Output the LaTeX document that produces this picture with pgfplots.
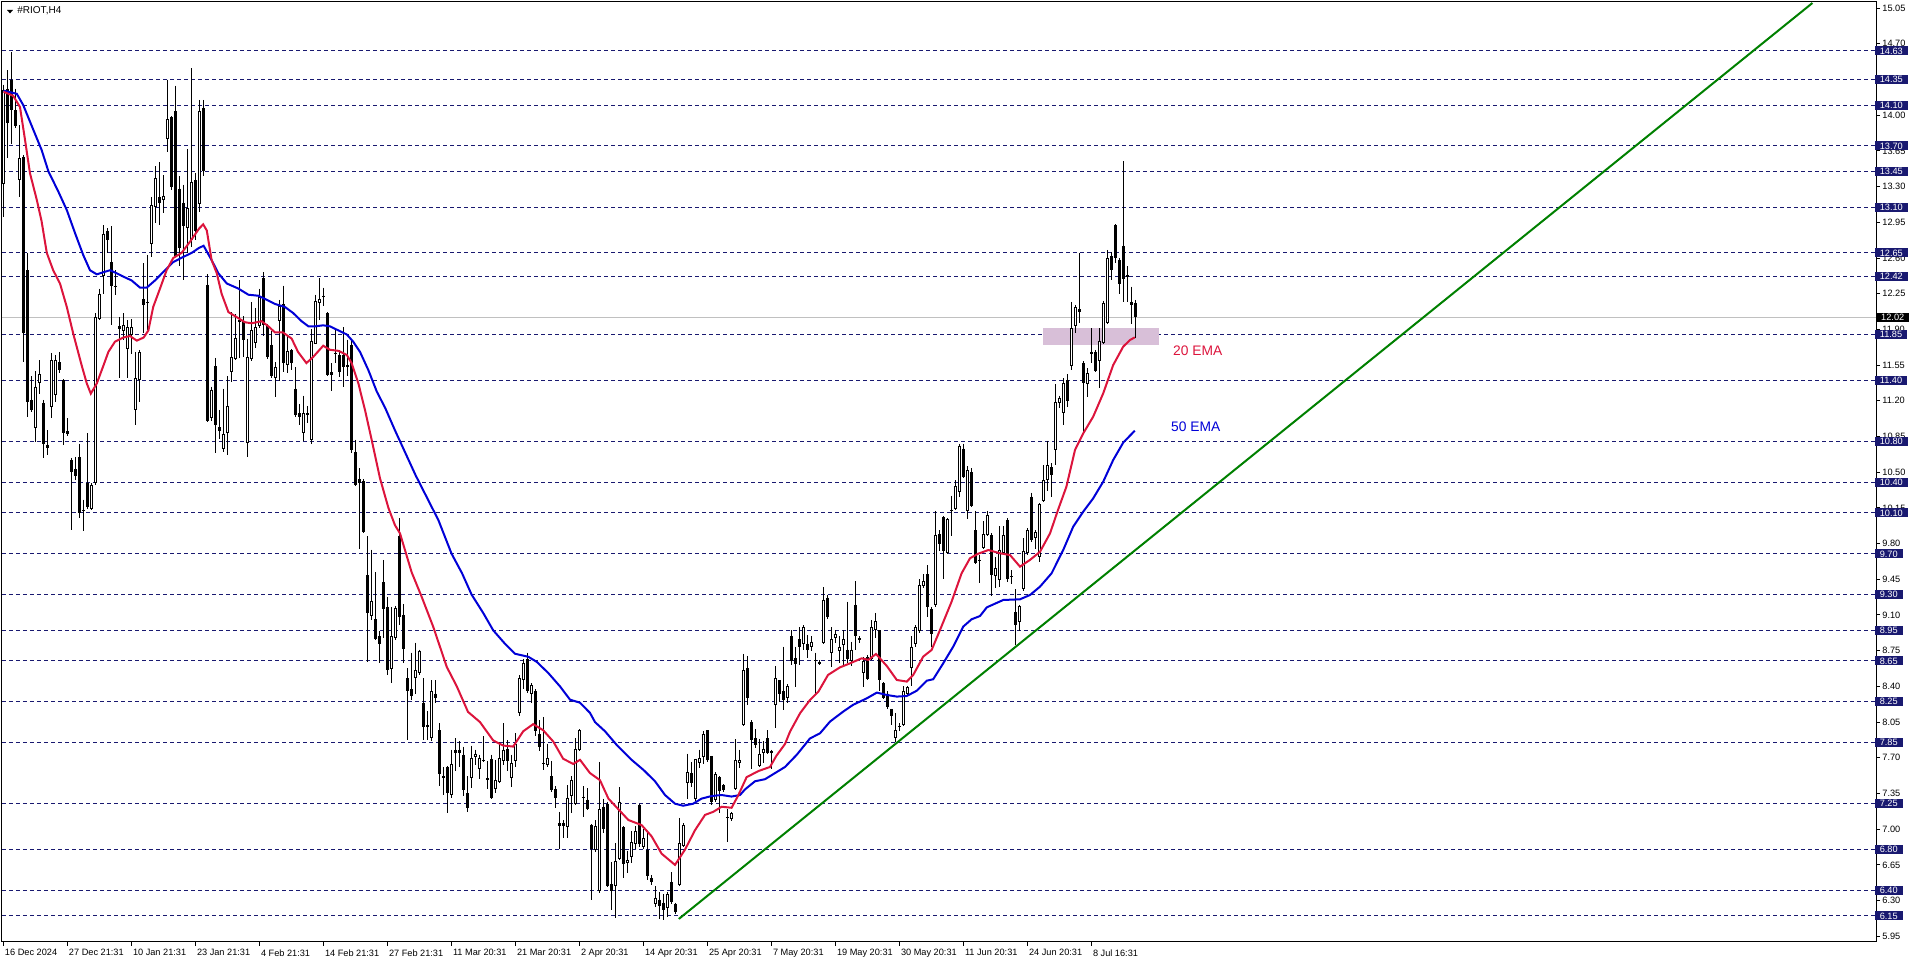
\documentclass[border=0pt]{standalone}
\usepackage{fontspec}
\setmainfont{Liberation Sans}
\usepackage{pgfplots}
\usepackage{pgfplotstable}
\pgfplotsset{compat=1.18}
\definecolor{navyc}{RGB}{25,25,112}
\definecolor{emared}{RGB}{220,20,60}
\definecolor{emablue}{RGB}{0,0,215}
\definecolor{thistlec}{RGB}{216,191,216}
\definecolor{trend}{RGB}{0,128,0}
\definecolor{curline}{RGB}{192,192,192}
\pgfplotstableread{
i o h l c
0 13.33 14.30 13.00 14.25
1 14.26 14.44 13.58 13.92
2 14.35 14.62 13.72 14.05
3 14.05 14.26 13.87 13.89
4 13.36 13.90 13.20 13.58
5 13.59 13.61 11.58 11.86
6 12.48 12.65 11.04 11.19
7 11.21 11.44 11.09 11.11
8 10.93 11.49 10.80 11.34
9 11.37 11.60 11.27 11.46
10 11.18 11.21 10.64 10.78
11 10.77 10.91 10.67 10.74
12 11.14 11.67 11.03 11.60
13 11.26 11.65 11.19 11.60
14 11.58 11.68 11.47 11.50
15 11.40 11.41 10.77 10.88
16 10.90 11.03 10.85 10.87
17 10.62 10.64 9.93 10.50
18 10.53 10.65 10.42 10.46
19 10.65 10.78 10.05 10.10
20 10.12 10.23 9.92 10.13
21 10.39 10.88 10.14 10.16
22 10.14 10.39 10.13 10.37
23 10.39 12.06 10.37 12.02
24 12.00 12.30 11.99 12.25
25 12.42 12.92 12.25 12.84
26 12.86 12.89 12.65 12.78
27 12.56 12.91 11.94 12.33
28 12.33 12.48 12.24 12.32
29 11.93 12.02 11.42 11.90
30 11.88 12.06 11.80 11.94
31 11.71 11.99 11.42 11.92
32 11.85 12.00 11.66 11.92
33 11.11 11.68 10.96 11.42
34 11.40 11.70 11.19 11.68
35 12.20 12.55 11.86 12.14
36 12.16 12.63 11.89 12.17
37 12.74 13.20 12.61 13.12
38 13.10 13.50 12.94 13.38
39 13.20 13.54 12.92 13.14
40 13.17 13.41 13.04 13.21
41 13.77 14.35 13.64 13.96
42 13.98 13.99 13.27 13.30
43 14.04 14.29 12.62 12.62
44 13.28 13.40 12.52 12.70
45 13.14 13.32 12.38 12.91
46 12.89 13.67 12.65 13.09
47 12.78 14.46 12.71 13.35
48 13.36 13.43 12.78 12.86
49 13.13 14.15 13.05 14.04
50 14.07 14.15 13.40 13.45
51 12.34 12.44 10.99 11.00
52 11.03 11.34 11.00 11.31
53 11.54 11.62 10.69 10.96
54 10.94 11.11 10.83 10.90
55 10.73 11.32 10.70 10.87
56 10.88 11.44 10.67 11.15
57 11.48 12.07 11.38 11.63
58 11.61 12.05 11.60 11.82
59 11.97 12.38 11.62 11.99
60 11.98 12.03 11.63 11.80
61 10.79 11.81 10.65 11.63
62 11.61 12.17 11.59 11.89
63 11.77 12.11 11.72 11.92
64 11.93 12.30 11.91 12.22
65 12.40 12.46 11.84 11.94
66 11.93 11.95 11.61 11.63
67 11.75 11.88 11.42 11.44
68 11.42 11.58 11.24 11.53
69 11.98 12.19 11.39 12.13
70 12.15 12.33 11.48 11.57
71 11.55 11.84 11.47 11.69
72 11.70 11.71 11.50 11.57
73 11.32 11.53 11.04 11.06
74 11.08 11.17 10.96 11.04
75 10.88 11.25 10.81 11.08
76 11.06 11.15 10.98 11.08
77 10.82 11.90 10.78 11.79
78 11.76 12.24 11.76 12.18
79 12.16 12.40 11.99 12.20
80 12.22 12.31 12.13 12.23
81 12.06 12.07 11.44 11.45
82 11.48 11.57 11.30 11.45
83 11.66 11.91 11.57 11.67
84 11.65 11.70 11.43 11.48
85 11.65 11.92 11.34 11.53
86 11.55 11.80 11.44 11.53
87 11.75 11.80 10.69 10.72
88 10.70 10.82 10.36 10.37
89 10.43 10.54 9.75 10.39
90 10.41 10.43 9.90 9.91
91 9.49 9.87 8.64 9.12
92 9.09 9.74 9.05 9.24
93 9.06 9.52 8.85 8.86
94 8.89 8.94 8.63 8.82
95 9.42 9.64 8.87 9.16
96 9.18 9.28 8.51 8.56
97 8.57 9.18 8.43 8.89
98 8.87 9.19 8.85 9.17
99 9.87 10.05 9.00 9.08
100 9.10 9.21 8.63 8.77
101 8.48 8.58 7.87 8.35
102 8.37 8.73 8.27 8.31
103 8.48 8.83 8.33 8.56
104 8.53 8.76 8.51 8.75
105 8.24 8.48 7.87 8.00
106 8.02 8.16 7.87 8.00
107 7.89 8.46 7.86 8.35
108 8.33 8.46 8.24 8.29
109 7.97 8.04 7.42 7.54
110 7.52 7.61 7.34 7.50
111 7.61 7.62 7.16 7.35
112 7.34 7.78 7.31 7.64
113 7.78 7.89 7.57 7.75
114 7.78 7.86 7.61 7.75
115 7.73 7.81 7.33 7.38
116 7.35 7.52 7.17 7.21
117 7.50 7.82 7.40 7.70
118 7.71 7.78 7.63 7.74
119 7.59 7.73 7.49 7.70
120 7.68 7.91 7.66 7.68
121 7.48 7.67 7.39 7.50
122 7.69 7.73 7.30 7.31
123 7.39 7.68 7.35 7.48
124 7.46 7.85 7.45 7.70
125 7.67 8.04 7.63 7.78
126 7.79 7.87 7.57 7.67
127 7.50 7.73 7.41 7.65
128 7.67 7.94 7.61 7.84
129 8.14 8.51 8.11 8.48
130 8.46 8.67 8.37 8.63
131 8.67 8.73 8.34 8.35
132 8.33 8.43 8.24 8.41
133 8.35 8.37 7.91 7.96
134 7.93 8.07 7.77 7.81
135 7.65 8.10 7.58 7.65
136 7.63 7.84 7.61 7.70
137 7.52 7.67 7.36 7.38
138 7.39 7.42 7.21 7.31
139 7.06 7.17 6.81 7.03
140 7.06 7.09 6.91 7.03
141 7.02 7.43 6.91 7.31
142 7.33 7.52 7.16 7.48
143 7.25 7.89 7.24 7.79
144 7.78 7.98 7.77 7.97
145 7.32 7.42 7.12 7.32
146 7.29 7.40 7.19 7.20
147 7.04 7.05 6.31 6.81
148 6.80 7.09 6.78 7.03
149 6.39 7.66 6.37 7.20
150 7.22 7.30 6.96 7.00
151 7.25 7.27 6.43 6.44
152 6.46 6.68 6.21 6.39
153 6.44 6.86 6.13 6.69
154 6.71 7.41 6.70 7.27
155 7.02 7.03 6.52 6.66
156 6.67 6.79 6.57 6.70
157 6.73 6.98 6.67 6.87
158 6.85 7.03 6.81 6.98
159 7.24 7.25 6.83 6.85
160 6.83 7.00 6.81 6.91
161 6.80 6.96 6.50 6.54
162 6.52 6.55 6.45 6.48
163 6.27 6.44 6.24 6.33
164 6.31 6.38 6.12 6.25
165 6.28 6.36 6.11 6.21
166 6.23 6.38 6.14 6.36
167 6.48 6.58 6.27 6.29
168 6.27 6.28 6.17 6.19
169 6.45 7.11 6.44 6.86
170 6.84 7.06 6.83 7.04
171 7.45 7.74 7.30 7.56
172 7.55 7.66 7.41 7.45
173 7.30 7.69 7.28 7.69
174 7.65 7.78 7.60 7.70
175 7.71 7.96 7.64 7.93
176 7.97 7.97 7.66 7.68
177 7.72 7.72 7.24 7.27
178 7.29 7.56 7.27 7.54
179 7.51 7.52 7.16 7.37
180 7.43 7.44 7.36 7.38
181 7.12 7.20 6.87 7.12
182 7.10 7.17 7.08 7.16
183 7.39 7.88 7.38 7.68
184 7.65 7.78 7.60 7.68
185 8.02 8.72 8.01 8.56
186 8.58 8.70 8.22 8.29
187 8.05 8.07 7.59 7.87
188 7.89 7.98 7.80 7.83
189 7.62 7.88 7.61 7.74
190 7.75 7.86 7.65 7.79
191 7.89 7.97 7.74 7.75
192 7.77 7.78 7.59 7.75
193 8.22 8.60 7.99 8.48
194 8.46 8.46 8.25 8.33
195 8.35 8.79 8.17 8.27
196 8.29 8.42 8.24 8.40
197 8.89 8.95 8.61 8.65
198 8.68 8.79 8.39 8.62
199 8.86 8.98 8.61 8.79
200 8.82 9.00 8.76 8.98
201 8.82 8.90 8.68 8.76
202 8.79 8.89 8.75 8.84
203 8.66 8.73 8.33 8.66
204 8.64 8.66 8.61 8.62
205 8.83 9.37 8.82 9.25
206 9.27 9.30 9.06 9.08
207 8.73 8.98 8.59 8.86
208 8.87 8.95 8.83 8.91
209 8.75 8.89 8.63 8.79
210 8.81 8.95 8.59 8.86
211 8.76 9.23 8.63 8.67
212 8.65 8.84 8.60 8.76
213 9.20 9.43 8.76 8.89
214 8.87 8.89 8.83 8.85
215 8.53 8.69 8.39 8.65
216 8.69 8.71 8.46 8.47
217 8.67 9.05 8.66 8.98
218 8.95 9.12 8.87 9.04
219 8.95 8.95 8.35 8.46
220 8.43 8.44 8.28 8.29
221 8.33 8.35 8.18 8.20
222 8.18 8.18 8.02 8.11
223 7.89 8.14 7.85 7.97
224 8.00 8.04 7.96 8.01
225 8.02 8.40 8.01 8.35
226 8.33 8.40 8.32 8.39
227 8.58 8.89 8.40 8.79
228 8.82 9.00 8.79 8.98
229 8.94 9.45 8.92 9.39
230 9.38 9.50 9.36 9.43
231 9.50 9.59 9.08 9.18
232 9.16 9.18 8.79 8.91
233 9.20 10.12 9.18 9.88
234 9.89 9.93 9.73 9.80
235 10.06 10.07 9.45 9.73
236 9.71 10.05 9.70 10.04
237 10.12 10.27 9.87 10.13
238 10.14 10.42 10.13 10.36
239 10.31 10.78 10.26 10.76
240 10.73 10.78 10.44 10.45
241 10.12 10.56 10.04 10.52
242 10.50 10.54 10.16 10.17
243 9.93 10.12 9.60 9.61
244 9.64 9.69 9.41 9.64
245 9.76 10.02 9.75 9.89
246 9.88 10.12 9.87 10.08
247 9.88 9.90 9.29 9.49
248 9.48 9.67 9.36 9.56
249 9.44 9.97 9.37 9.74
250 9.71 9.97 9.70 9.88
251 10.03 10.05 9.42 9.45
252 9.48 9.54 9.40 9.48
253 9.13 9.35 8.81 9.00
254 9.03 9.20 8.94 9.19
255 9.35 9.85 9.34 9.73
256 9.71 9.95 9.69 9.93
257 10.26 10.30 9.82 9.84
258 9.85 9.93 9.75 9.91
259 9.67 10.20 9.62 10.19
260 10.22 10.57 10.21 10.42
261 10.42 10.81 10.32 10.57
262 10.55 10.59 10.26 10.47
263 10.72 11.36 10.57 11.19
264 11.18 11.25 11.13 11.23
265 11.08 11.42 10.96 11.37
266 11.40 11.46 11.14 11.20
267 11.54 12.17 11.50 11.91
268 11.93 12.14 11.86 12.12
269 12.10 12.65 11.96 12.07
270 11.57 11.59 10.89 11.37
271 11.36 11.52 11.24 11.47
272 11.68 11.91 11.57 11.66
273 11.68 11.70 11.48 11.49
274 11.59 11.91 11.33 11.79
275 11.77 12.18 11.76 12.16
276 11.96 12.68 11.95 12.60
277 12.62 12.66 12.38 12.48
278 12.92 12.93 12.55 12.60
279 12.58 12.60 12.25 12.35
280 12.72 13.55 12.17 12.39
281 12.41 12.52 12.17 12.43
282 12.17 12.32 11.95 12.14
283 12.16 12.19 11.82 12.02
}\candles
\begin{document}
\begin{tikzpicture}
\useasboundingbox (0,0) rectangle (958pt,481.5pt);
\begin{axis}[
  at={(1pt,10.5pt)}, anchor=south west,
  width=937pt, height=470pt, scale only axis,
  xmin=-0.4, xmax=468.1, ymin=5.894, ymax=15.110,
  clip mode=individual,
  axis line style={black, line width=0.5pt},
  tick align=outside, major tick length=2pt,
  tick style={black, line width=0.5pt},
  xtick pos=left, ytick pos=right, yticklabel pos=right,
  xtick={0,16,32,48,64,80,96,112,128,144,160,176,192,208,224,240,256,272},
  xticklabels={16 Dec 2024, 27 Dec 21:31, 10 Jan 21:31, 23 Jan 21:31, 4 Feb 21:31, 14 Feb 21:31, 27 Feb 21:31, 11 Mar 20:31, 21 Mar 20:31, 2 Apr 20:31, 14 Apr 20:31, 25 Apr 20:31, 7 May 20:31, 19 May 20:31, 30 May 20:31, 11 Jun 20:31, 24 Jun 20:31, 8 Jul 16:31},
  ytick={5.95,6.30,6.65,7.00,7.35,7.70,8.05,8.40,8.75,9.10,9.45,9.80,10.15,10.50,10.85,11.20,11.55,11.90,12.25,12.60,12.95,13.30,13.65,14.00,14.35,14.70,15.05},
  tick label style={font=\fontsize{4.6}{5}\selectfont, black},
  xticklabel style={anchor=north west, inner sep=0pt, xshift=0.5pt, yshift=-1.5pt},
  yticklabel style={anchor=west, inner sep=0pt, xshift=1pt,
    /pgf/number format/fixed, /pgf/number format/fixed zerofill,
    /pgf/number format/precision=2, /pgf/number format/assume math mode=true},
  extra y ticks={14.63,14.35,14.10,13.70,13.45,13.10,12.65,12.42,11.85,11.40,10.80,10.40,10.10,9.70,9.30,8.95,8.65,8.25,7.85,7.25,6.80,6.40,6.15},
  extra y tick style={major tick length=0pt, grid=major,
    major grid style={navyc, line width=0.5pt, dash pattern=on 2pt off 1.5pt},
    yticklabel style={fill=navyc, text=white, inner xsep=2.4pt, inner ysep=0.6pt,
      text height=3.3pt, text depth=0pt, xshift=-1.7pt}},
]
% current price line
\draw[curline, line width=0.5pt] (axis cs:-0.4,12.02) -- (axis cs:468.1,12.02);
% support zone
\fill[thistlec] (axis cs:259.8,11.75) rectangle (axis cs:288.85,11.917);
% wicks
\addplot[draw=none, mark=none, forget plot,
  error bars/.cd, y dir=minus, y explicit, error mark=none,
  error bar style={draw=black, line width=0.5pt}]
  table[x=i, y=h, y error expr={\thisrow{h}-\thisrow{l}}] {\candles};
% bodies (black outline / black fill)
\addplot[draw=none, mark=none, forget plot,
  error bars/.cd, y dir=minus, y explicit, error mark=none,
  error bar style={draw=black, line width=1.5pt, line cap=butt}]
  table[x=i, y expr={max(\thisrow{o},\thisrow{c})}, y error expr={max(abs(\thisrow{o}-\thisrow{c}),0.012)}] {\candles};
% white interior of bullish bodies
\addplot[draw=none, mark=none, forget plot,
  restrict expr to domain={\thisrow{c}-\thisrow{o}}{0.025:100},
  error bars/.cd, y dir=minus, y explicit, error mark=none,
  error bar style={draw=white, line width=0.5pt, line cap=butt}]
  table[x=i, y expr={\thisrow{c}-0.0098}, y error expr={\thisrow{c}-\thisrow{o}-0.0196}] {\candles};
% 50 EMA
\addplot[emablue, line width=1pt, mark=none] coordinates {
(0,14.24) (3.3,14.21) (4.9,14.10) (7.4,13.86) (9.5,13.66) (11.2,13.45) (13.7,13.25) (15.8,13.07) (17.9,12.84) (19.9,12.63) (21.6,12.48) (23.3,12.44) (24.9,12.46) (26.6,12.48) (28.3,12.45) (30.35,12.41) (32,12.38) (34.1,12.31) (35.8,12.31) (37.85,12.38) (40.35,12.48) (42.4,12.56) (44.9,12.61) (47,12.65) (48.9,12.70) (50,12.72) (52,12.58) (53.7,12.45) (55.8,12.35) (58.7,12.30) (61.2,12.24) (63.7,12.23) (65.8,12.19) (67.8,12.15) (70.35,12.12) (72.4,12.06) (74.5,11.98) (76.2,11.93) (77.85,11.93) (79.9,11.94) (81.6,11.93) (83.7,11.89) (85.8,11.85) (87.4,11.78) (89.1,11.68) (91.2,11.50) (93.3,11.29) (95.4,11.13) (97.85,10.91) (103,10.47) (108.7,10.03) (112,9.70) (114.6,9.51) (117,9.30) (119.9,9.12) (122.4,8.95) (125.3,8.82) (127.85,8.72) (131.2,8.69) (133.3,8.64) (136.2,8.53) (139.1,8.40) (141.6,8.27) (144.1,8.24) (146.6,8.14) (147.85,8.05) (150.35,7.96) (153.3,7.825) (157,7.68) (160,7.58) (162.85,7.47) (165.35,7.335) (167.85,7.25) (169.9,7.23) (172.4,7.25) (174.5,7.30) (177,7.325) (179.5,7.335) (182,7.32) (184.1,7.335) (185.35,7.39) (187.85,7.47) (190.35,7.49) (192.85,7.55) (195.35,7.61) (198.3,7.73) (201.6,7.89) (204.1,7.94) (206.6,8.055) (209.9,8.153) (212.4,8.22) (215.8,8.283) (218.3,8.339) (220.8,8.316) (223.3,8.30) (225.8,8.306) (228.3,8.358) (230.8,8.456) (232.4,8.47) (234.9,8.626) (237.4,8.79) (239.9,8.986) (242,9.058) (244.1,9.09) (245.8,9.175) (249.9,9.247) (254.1,9.254) (256.6,9.296) (259.1,9.378) (262,9.509) (264.9,9.737) (267.4,9.966) (269.9,10.113) (272.4,10.244) (274.9,10.407) (277.4,10.62) (279.9,10.79) (282.8,10.907)
};
% 20 EMA
\addplot[emared, line width=1pt, mark=none] coordinates {
(0,14.23) (2.4,14.19) (4.1,14.08) (5.35,13.76) (6.6,13.43) (8.3,13.17) (9.5,12.96) (10.8,12.65) (12.4,12.48) (14.1,12.35) (15.8,12.12) (17.4,11.86) (19.5,11.55) (20.8,11.37) (21.8,11.27) (23.3,11.37) (25,11.55) (26.2,11.68) (27.85,11.78) (29.9,11.82) (31.6,11.835) (33.3,11.79) (35,11.82) (36.2,11.89) (37.4,12.12) (39.1,12.30) (40.75,12.48) (42.4,12.60) (44.5,12.65) (46.6,12.76) (48.9,12.89) (49.9,12.93) (50.8,12.87) (52,12.58) (53.3,12.45) (54.5,12.25) (56.2,12.07) (58.7,12.01) (60.35,11.97) (62,11.96) (64.5,11.98) (66.2,11.93) (67.85,11.87) (69.85,11.87) (72,11.81) (73.6,11.68) (75.7,11.57) (77.4,11.63) (79.9,11.74) (81.6,11.70) (83.7,11.69) (85.8,11.65) (87,11.57) (88.7,11.37) (90.35,11.11) (92,10.82) (94.1,10.44) (96.2,10.15) (97.85,9.98) (99.1,9.90) (102,9.52) (104.5,9.28) (107.4,8.985) (110.8,8.59) (113.3,8.40) (116.1,8.15) (119.1,8.05) (122.4,7.87) (124.9,7.82) (127.4,7.81) (129.9,7.96) (132.4,8.03) (134.9,7.97) (137.4,7.86) (139.9,7.69) (142.4,7.64) (144.1,7.68) (146.6,7.55) (149.1,7.48) (151.2,7.30) (153.7,7.195) (156.2,7.09) (159.5,7.04) (162,6.93) (164.5,6.76) (167.85,6.65) (170.35,6.80) (172.85,6.99) (175.35,7.14) (177.4,7.17) (179.5,7.22) (182,7.21) (183.7,7.335) (185.75,7.51) (188.7,7.57) (191.6,7.61) (193.2,7.72) (195.35,7.835) (196.6,7.956) (199.1,8.136) (201.6,8.267) (203.7,8.349) (206.1,8.512) (209.1,8.587) (211.6,8.626) (214.5,8.675) (216.2,8.66) (218.1,8.718) (220.8,8.60) (223.3,8.463) (225.8,8.447) (227.4,8.512) (229.9,8.692) (232,8.757) (234.1,8.953) (237,9.231) (239.5,9.509) (241.6,9.656) (243.6,9.70) (246.2,9.737) (249.1,9.705) (251.6,9.688) (254.1,9.574) (256.6,9.64) (259.1,9.72) (261.6,9.90) (263.6,10.13) (265.7,10.358) (267.85,10.718) (269.9,10.88) (272.4,11.045) (274.9,11.273) (277.4,11.551) (279.9,11.731) (281.6,11.796) (282.8,11.822)
};
% trend line
\addplot[trend, line width=1pt, mark=none] coordinates {(168.8,6.12) (452.2,15.10)};
% labels
\node[anchor=west, text=emared, font=\fontsize{6.9}{8}\selectfont, inner sep=0pt] at (axis cs:292.3,11.69) {20 EMA};
\node[anchor=west, text=emablue, font=\fontsize{6.9}{8}\selectfont, inner sep=0pt] at (axis cs:291.8,10.95) {50 EMA};
% current price box
\node[anchor=west, fill=black, text=white, font=\fontsize{4.6}{5}\selectfont, inner xsep=2.4pt, inner ysep=0.6pt, text height=3.3pt, text depth=0pt] at (axis cs:468.1,12.02) {12.02};
\end{axis}
\fill[black] (3.5pt,476.5pt) -- (6.5pt,476.5pt) -- (5pt,474.8pt) -- cycle;
\node[anchor=west, inner sep=0pt, font=\fontsize{5}{6}\selectfont] at (8.5pt,476pt) {\#RIOT,H4};
\end{tikzpicture}
\end{document}
